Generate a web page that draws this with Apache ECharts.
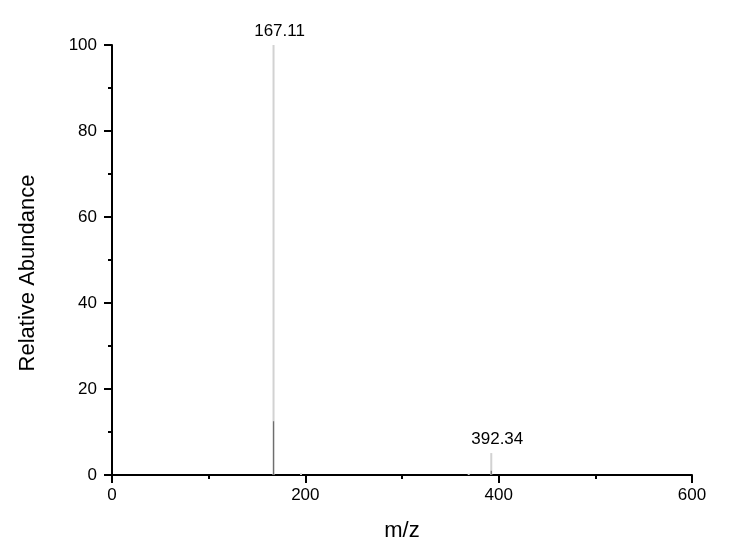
<!DOCTYPE html>
<html>
<head>
<meta charset="utf-8">
<script src="https://cdn.jsdelivr.net/npm/echarts@6/dist/echarts.min.js"></script>
<style>
  html, body { margin: 0; padding: 0; background: #fff; }
  #chart { width: 739px; height: 552px; }
</style>
</head>
<body>
<div id="chart"></div>
<script>
// Peaks (m/z, relative abundance) – outer light profile
const peakMz = [167.11, 392.34, 195.5, 369.0];
const peakAbundance = [100, 5.1, 0.4, 0.3];
// Inner darker centroid segments
const innerMz = [167.11, 392.34];
const innerAbundance = [12.5, 1.0];
// Labelled peaks
const labelMz = [167.11, 392.34];
const labelAbundance = [100, 5.1];
const labelText = ['167.11', '392.34'];

const FONT = 'Arial, "Liberation Sans", sans-serif';

function stickSeries(xs, ys, color, width) {
  return {
    type: 'custom',
    data: xs.map((x, i) => [x, ys[i]]),
    renderItem: function (params, api) {
      const p0 = api.coord([api.value(0), 0]);
      const p1 = api.coord([api.value(0), api.value(1)]);
      return {
        type: 'line',
        shape: { x1: p0[0], y1: p0[1], x2: p1[0], y2: p1[1] },
        style: { stroke: color, lineWidth: width }
      };
    },
    silent: true,
    z: 2
  };
}

const chart = echarts.init(document.getElementById('chart'), null, { renderer: 'canvas' });
chart.setOption({
  animation: false,
  backgroundColor: '#ffffff',
  grid: { left: 112, top: 45, width: 580, height: 430, containLabel: false },
  xAxis: {
    type: 'value', min: 0, max: 600, interval: 200,
    name: 'm/z', nameLocation: 'middle', nameGap: 45,
    nameTextStyle: { fontFamily: FONT, fontSize: 22, color: '#000' },
    axisLine: { show: true, onZero: false, lineStyle: { color: '#000', width: 2 } },
    axisTick: { show: true, length: 8, lineStyle: { color: '#000', width: 2 } },
    minorTick: { show: true, splitNumber: 2, length: 4, lineStyle: { color: '#000', width: 2 } },
    axisLabel: { fontFamily: FONT, fontSize: 17, color: '#000', margin: 12 },
    splitLine: { show: false }
  },
  yAxis: {
    type: 'value', min: 0, max: 100, interval: 20,
    name: 'Relative Abundance', nameLocation: 'middle', nameGap: 73,
    nameTextStyle: { fontFamily: FONT, fontSize: 22, color: '#000', padding: [0, 26, 0, 0] },
    axisLine: { show: true, lineStyle: { color: '#000', width: 2 } },
    axisTick: { show: true, length: 8, lineStyle: { color: '#000', width: 2 } },
    minorTick: { show: true, splitNumber: 2, length: 4, lineStyle: { color: '#000', width: 2 } },
    axisLabel: { fontFamily: FONT, fontSize: 17, color: '#000', margin: 15 },
    splitLine: { show: false }
  },
  series: [
    stickSeries(peakMz, peakAbundance, '#d2d2d2', 2),
    stickSeries(innerMz, innerAbundance, '#6e6e6e', 1.2),
    {
      type: 'scatter',
      data: labelMz.map((x, i) => [x, labelAbundance[i]]),
      symbolSize: 0,
      silent: true,
      itemStyle: { opacity: 1 },
      label: {
        show: true, position: 'top', distance: 5, offset: [6, 0],
        fontFamily: FONT, fontSize: 17, color: '#000', opacity: 1,
        formatter: function (p) { return labelText[p.dataIndex]; }
      },
      z: 3
    }
  ]
});
</script>
</body>
</html>
